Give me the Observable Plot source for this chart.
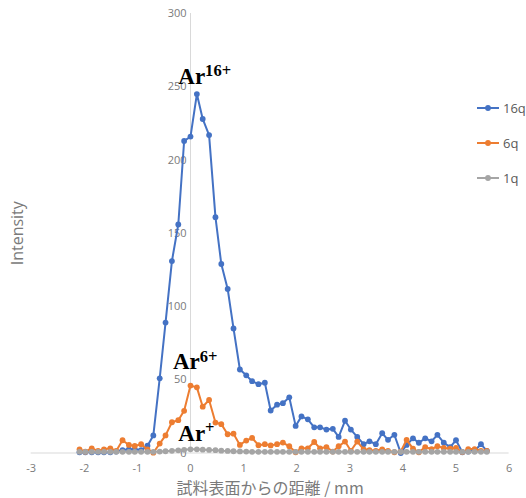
<!DOCTYPE html>
<html>
<head>
<meta charset="utf-8">
<script src="https://cdn.jsdelivr.net/npm/d3@7"></script>
<script src="https://cdn.jsdelivr.net/npm/@observablehq/plot@0.6"></script>
<style>
  html, body { margin: 0; padding: 0; background: #fff; }
  #wrap { position: relative; width: 526px; height: 498px; }
  #legend { position: absolute; left: 476px; top: 90px; font-family: "Open Sans", sans-serif; font-size: 13px; color: #595959; }
  .item { display: flex; align-items: center; height: 35px; }
  .item svg { margin-right: 3px; }
</style>
</head>
<body>
<div id="wrap"><div id="legend"></div></div>
<script>
// distance from sample surface (mm)
const xs = [
  -2.09, -1.98, -1.86, -1.74, -1.63, -1.51, -1.40, -1.28, -1.16, -1.05,
  -0.93, -0.81, -0.70, -0.58, -0.47, -0.35, -0.23, -0.12, 0, 0.12,
  0.23, 0.35, 0.47, 0.58, 0.70, 0.81, 0.93, 1.05, 1.16, 1.28,
  1.40, 1.51, 1.63, 1.74, 1.86, 1.98, 2.09, 2.21, 2.33, 2.44,
  2.56, 2.68, 2.79, 2.91, 3.02, 3.14, 3.26, 3.37, 3.49, 3.61,
  3.72, 3.84, 3.96, 4.07, 4.19, 4.30, 4.42, 4.54, 4.65, 4.77,
  4.89, 5.00, 5.12, 5.23, 5.35, 5.47, 5.58
];
const q16 = [
  0.5, 0.5, 0.5, 0.5, 0.5, 0.5, 1, 2, 2.5, 2.5,
  2, 5, 12, 51, 89, 131, 156, 213, 216, 245,
  228, 217, 161, 129, 112, 85, 57, 53, 49, 47,
  48, 29, 33, 34, 38, 18.5, 25, 23, 17.5, 17.5,
  16, 16.5, 11, 22, 16, 11, 6, 8, 6, 13.5,
  9, 12.4, 0, 5.5, 10, 7, 10, 8, 12.4, 7,
  4, 8.7, 0.5, 1, 1.5, 6, 1.4
];
const q6 = [
  2.5, 0.9, 3.2, 1.4, 2.5, 3.2, 1.4, 8.7, 5.5, 4.8,
  6, 2.5, 0.2, 6.4, 12, 21, 22.4, 28.8, 46, 44.8,
  31.6, 36.2, 20.8, 19.7, 12.8, 13.2, 5.5, 8.5, 10.3, 5.3,
  6, 5.2, 6, 7.1, 4.6, 0.5, 3.2, 3.2, 7.5, 3.2,
  4, 1, 4.6, 7.8, 1.5, 7.8, 2.5, 2, 1.5, 2.5,
  1.5, 0.5, 1, 9, 3, 0.5, 4, 2.7, 4.6, 3.4,
  3, 3.4, 0.6, 2.7, 2.7, 1.5, 1.5
];
const q1 = [
  0.8, 0.8, 0.8, 0.8, 0.8, 0.8, 0.8, 0.8, 0.8, 0.8,
  0.8, 0.8, 0.8, 1, 1.2, 1.5, 1.8, 2.2, 2.5, 2.5,
  2.3, 2.1, 1.9, 1.6, 1.4, 1.2, 1.1, 1, 0.8, 0.8,
  0.8, 0.8, 0.8, 0.8, 0.8, 0.8, 0.8, 0.8, 0.8, 0.8,
  0.8, 0.8, 0.8, 0.8, 0.8, 0.8, 0.8, 0.8, 0.8, 0.8,
  0.8, 0.8, 0.8, 0.8, 0.8, 0.8, 0.8, 0.8, 0.8, 0.8,
  0.8, 0.8, 0.8, 0.8, 0.8, 0.8, 0.8
];
const seriesNames = ["16q", "6q", "1q"];
const seriesColors = ["#4472C4", "#ED7D31", "#A5A5A5"];
const seriesValues = [q16, q6, q1];
const xTicks = [-3, -2, -1, 0, 1, 2, 3, 4, 5, 6];
const yTicks = [0, 50, 100, 150, 200, 250, 300];
const annBase = ["Ar", "Ar", "Ar"];
const annSup = ["16+", "6+", "+"];
const annX = [-0.23, -0.33, -0.23];
const annY = [252, 57, 8];
const xLabel = "試料表面からの距離 / mm";
const yLabel = "Intensity";

const rows = seriesNames.flatMap((s, si) => xs.map((x, i) => ({x, y: seriesValues[si][i], s})));
const ann = annBase.map((b, i) => ({x: annX[i], y: annY[i], t: b + "^" + annSup[i]}));
const tickColor = "#7a7a7a";

const chart = Plot.plot({
  width: 526,
  height: 498,
  marginLeft: 30.7,
  marginRight: 17.4,
  marginTop: 13,
  marginBottom: 45.5,
  style: {fontFamily: "'Open Sans', sans-serif", background: "white"},
  x: {domain: [-3, 6], axis: null},
  y: {domain: [0, 300], axis: null},
  color: {domain: seriesNames, range: seriesColors},
  marks: [
    Plot.ruleY([0], {stroke: "#d9d9d9", strokeWidth: 1}),
    Plot.ruleX([0], {stroke: "#d9d9d9", strokeWidth: 1}),
    Plot.text(yTicks, {x: 0, y: d => d, text: d => String(d), textAnchor: "end", dx: -4, fill: tickColor, fontSize: 11}),
    Plot.text(xTicks, {x: d => d, y: 0, text: d => String(d), dy: 15, fill: tickColor, fontSize: 11}),
    ...seriesNames.flatMap((s, si) => [
      Plot.line(rows.filter(r => r.s === s), {x: "x", y: "y", stroke: seriesColors[si], strokeWidth: 2}),
      Plot.dot(rows.filter(r => r.s === s), {x: "x", y: "y", fill: seriesColors[si], r: 2.9})
    ]),
    Plot.text(ann, {x: "x", y: "y", text: "t", textAnchor: "start", lineAnchor: "bottom", className: "ann",
      fontFamily: "'Liberation Serif', serif", fontWeight: "bold", fontSize: 23, fill: "#000"}),
    Plot.text([xLabel], {frameAnchor: "bottom", textAnchor: "middle", dy: 41, fill: "#7a7a7a", fontSize: 16,
      fontFamily: "'Noto Sans CJK JP', 'Open Sans', sans-serif"}),
    Plot.text([yLabel], {frameAnchor: "left", textAnchor: "middle", rotate: -90, dx: -13, fill: "#7a7a7a", fontSize: 16})
  ]
});

// superscripts for annotations
d3.select(chart).selectAll(".ann text").each(function() {
  const full = this.textContent;
  const [base, sup] = full.split("^");
  const sel = d3.select(this);
  sel.text(null);
  sel.append("tspan").text(base);
  sel.append("tspan").attr("dy", "-0.48em").attr("font-size", "0.72em").text(sup);
});

document.getElementById("wrap").prepend(chart);

// legend
const legend = d3.select("#legend");
seriesNames.forEach((s, i) => {
  const item = legend.append("div").attr("class", "item");
  const sv = item.append("svg").attr("width", 24).attr("height", 10);
  sv.append("line").attr("x1", 1).attr("x2", 23).attr("y1", 5).attr("y2", 5).attr("stroke", seriesColors[i]).attr("stroke-width", 2);
  sv.append("circle").attr("cx", 12).attr("cy", 5).attr("r", 2.9).attr("fill", seriesColors[i]);
  item.append("span").text(s);
});
</script>
</body>
</html>
